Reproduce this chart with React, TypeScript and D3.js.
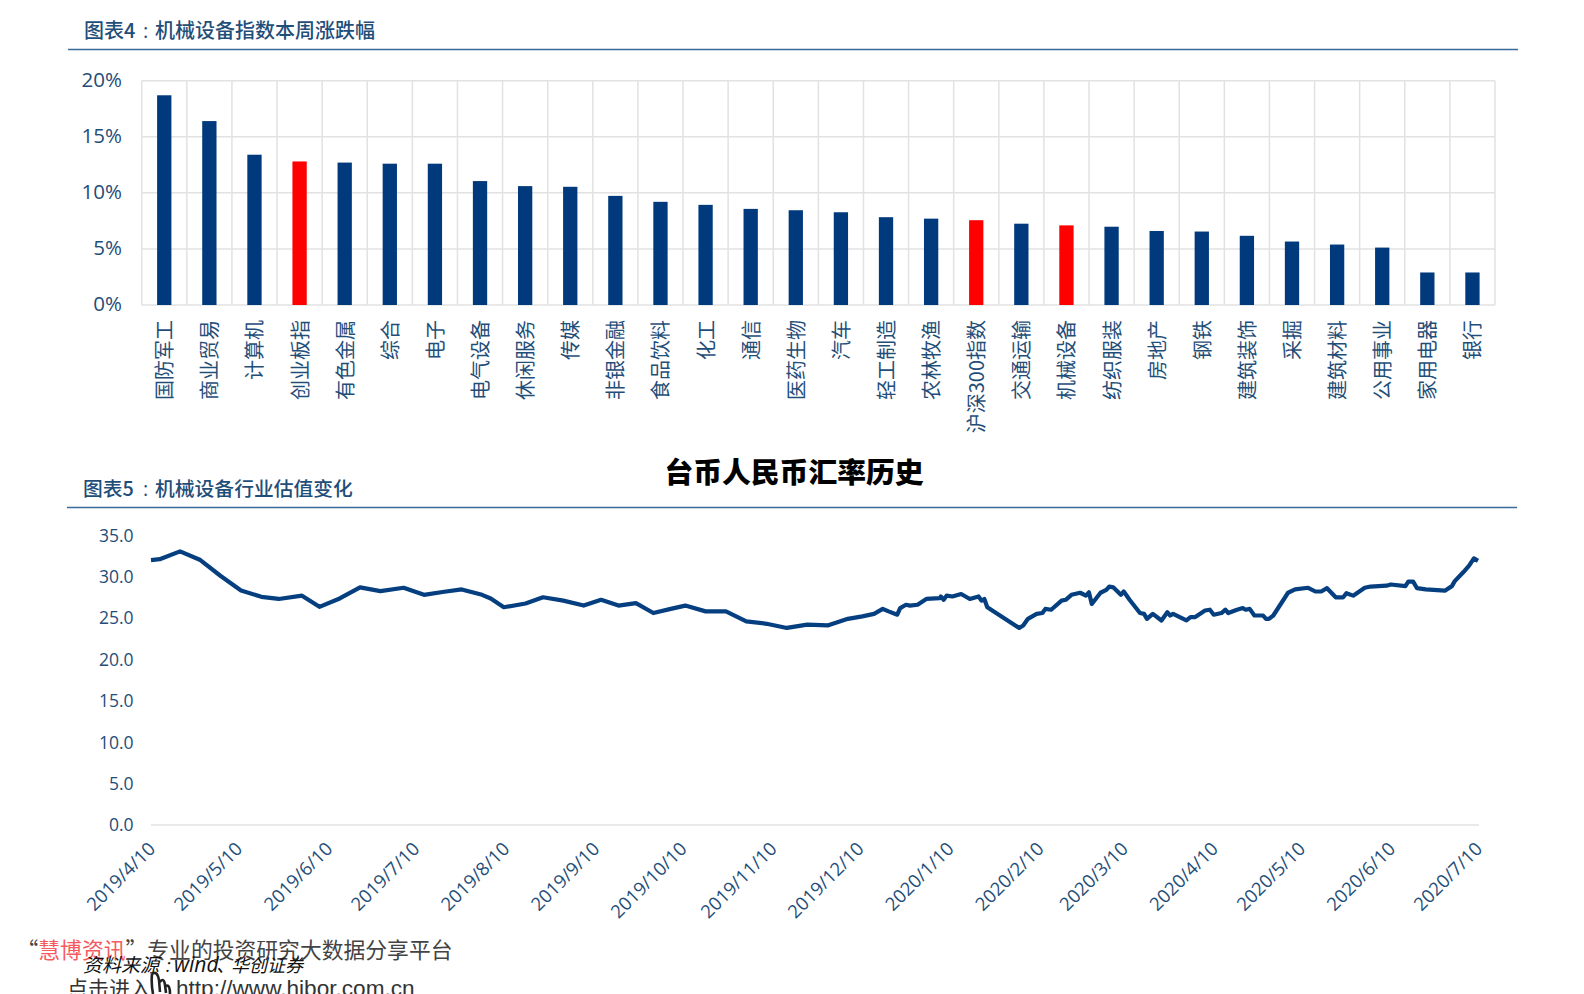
import React from "react";
import * as d3 from "d3";

const categories = ["国防军工","商业贸易","计算机","创业板指","有色金属","综合","电子","电气设备","休闲服务","传媒","非银金融","食品饮料","化工","通信","医药生物","汽车","轻工制造","农林牧渔","沪深300指数","交通运输","机械设备","纺织服装","房地产","钢铁","建筑装饰","采掘","建筑材料","公用事业","家用电器","银行"];
const weeklyChange = [18.7,16.4,13.4,12.8,12.7,12.6,12.6,11.05,10.6,10.54,9.73,9.2,8.93,8.57,8.45,8.27,7.83,7.7,7.56,7.25,7.1,6.98,6.6,6.55,6.17,5.66,5.39,5.12,2.9,2.9];
const highlighted = ["创业板指","沪深300指数","机械设备"];
const barTicks = [0,5,10,15,20];

const valuationDays = [0,3,10,17,24,31,38,44,52,58,65,72,79,87,94,101,107,114,117,121.5,129,135,142,149,155,161,167,173,179,184,191,198,205,212,219,226,233,240,245,249,252,254,257,258,260,261.4,264,267,271.7,272,273,274,276,279,282,285,286,287,288,299,300.4,302,305,307,308,310,313.6,315,317,320,322,323,324,327,329,330,331.4,334,335,337,340.6,342,343,345,348,350,351,352,356.6,358,359.5,363,364.7,366,368.7,370,371,374,376,377,378.4,380,383,384,385,386.5,391.6,394,398.5,401,403,405,408,410.6,411.7,414,418,420,425.5,427,432,433,434.7,436,439,445.6,448,449,452,454,455.6,457];
const valuation = [32,32.1,33.05,32,30.07,28.33,27.56,27.3,27.7,26.35,27.36,28.7,28.25,28.65,27.8,28.17,28.45,27.8,27.36,26.3,26.75,27.5,27.1,26.5,27.2,26.5,26.8,25.6,26.1,26.5,25.8,25.8,24.6,24.3,23.8,24.2,24.1,24.9,25.2,25.5,26.1,25.8,25.4,26.2,26.6,26.5,26.6,27.3,27.4,27.6,27.2,27.7,27.6,27.9,27.3,27.6,27.1,27.3,26.3,23.8,24.1,24.9,25.5,25.6,26.1,26,27.1,27.2,27.8,28.05,27.7,28.1,26.7,28.05,28.4,28.8,28.7,27.8,28.2,27.2,25.6,25.5,24.9,25.5,24.7,25.7,25.3,25.5,24.7,25.1,25.1,25.9,26,25.4,25.6,26,25.6,26,26.2,26,26.1,25.3,25.3,24.9,24.9,25.3,28.05,28.45,28.65,28.2,28.2,28.6,27.5,27.5,28,27.7,28.65,28.8,28.9,29.05,28.85,29.4,29.4,28.6,28.45,28.3,28.85,29.45,30.55,31.35,32.2,31.9];
const lineTicks = [0,5,10,15,20,25,30,35];
const startDate = "2019/4/10";
const dateTicks = ["2019/4/10","2019/5/10","2019/6/10","2019/7/10","2019/8/10","2019/9/10","2019/10/10","2019/11/10","2019/12/10","2020/1/10","2020/2/10","2020/3/10","2020/4/10","2020/5/10","2020/6/10","2020/7/10"];

const sans = "'Open Sans','Noto Sans CJK SC',sans-serif";
const cjk = "'Noto Sans CJK SC','Open Sans',sans-serif";
const navy = "#003A7C";
const ink = "#1F4E79";
const grid = "#E2E2E2";

const parse = d3.timeParse("%Y/%-m/%-d");

export default function App() {
  const xBand = d3.scaleBand<string>().domain(categories).range([141.7, 1495]);
  const yBar = d3.scaleLinear().domain([0, 20]).range([305, 80.7]);
  const barW = xBand.bandwidth() * 0.317;

  const start = parse(startDate) as Date;
  const end = parse(dateTicks[dateTicks.length - 1]) as Date;
  const xTime = d3.scaleTime().domain([start, end]).range([151, 1478]);
  const yLine = d3.scaleLinear().domain([0, 35]).range([825, 535.2]);
  const path = d3.line<number>()
    .x((_, i) => xTime(d3.timeHour.offset(start, valuationDays[i] * 24)))
    .y((v) => yLine(v))(valuation) as string;

  return (
    <svg width={1584} height={994} viewBox="0 0 1584 994" style={{ position: "absolute", left: 0, top: 0, display: "block", background: "#fff" }}>
      {/* Chart 4 heading */}
      <text y={37.5} fontFamily={cjk} fontSize={20} fontWeight={500} fill={ink}>
        <tspan x={84}>图表4</tspan>
        <tspan x={143} fontFamily={sans}>:</tspan>
        <tspan x={155}>机械设备指数本周涨跌幅</tspan>
      </text>
      <line x1={68} x2={1518} y1={49.5} y2={49.5} stroke="#3A6A9A" strokeWidth={1.5} />

      {/* Chart 4 grid */}
      {barTicks.map((t) => (
        <g key={t}>
          <line x1={141.7} x2={1495} y1={yBar(t)} y2={yBar(t)} stroke={grid} strokeWidth={1.5} />
          <text x={122} y={yBar(t) - 1} dy="0.36em" textAnchor="end" fontFamily={sans} fontSize={20.5} fill={ink}>{t}%</text>
        </g>
      ))}
      {[...categories, ""].map((c, i) => {
        const x = 141.7 + i * xBand.step();
        return <line key={i} x1={x} x2={x} y1={80.7} y2={305} stroke={grid} strokeWidth={1.5} />;
      })}

      {/* Chart 4 bars and labels */}
      {categories.map((c, i) => {
        const cx = (xBand(c) as number) + xBand.bandwidth() / 2;
        return (
          <g key={c}>
            <rect x={cx - barW / 2} y={yBar(weeklyChange[i])} width={barW} height={yBar(0) - yBar(weeklyChange[i])} fill={highlighted.includes(c) ? "#FF0000" : navy} />
            <text transform={`translate(${cx + 8},320) rotate(-90)`} textAnchor="end" fontFamily={cjk} fontSize={20} fill={ink}>{c}</text>
          </g>
        );
      })}

      {/* Overlay title */}
      <text x={794} y={482.5} textAnchor="middle" fontFamily={cjk} fontSize={28.8} fontWeight={900} fill="#000">台币人民币汇率历史</text>

      {/* Chart 5 heading */}
      <text y={495.5} fontFamily={cjk} fontSize={19.8} fontWeight={500} fill={ink}>
        <tspan x={83}>图表5</tspan>
        <tspan x={143} fontFamily={sans}>:</tspan>
        <tspan x={155}>机械设备行业估值变化</tspan>
      </text>
      <line x1={67} x2={1517} y1={507.5} y2={507.5} stroke="#3A6A9A" strokeWidth={1.5} />

      {/* Chart 5 */}
      {lineTicks.map((t) => (
        <text key={t} x={133.5} y={yLine(t)} dy="0.36em" textAnchor="end" fontFamily={sans} fontSize={17.5} fill={ink}>{t.toFixed(1)}</text>
      ))}
      <line x1={151} x2={1479} y1={yLine(0)} y2={yLine(0)} stroke={grid} strokeWidth={1.5} />
      <path d={path} fill="none" stroke="#053F80" strokeWidth={4.2} strokeLinejoin="round" />
      {dateTicks.map((d) => {
        const x = xTime(parse(d) as Date);
        return (
          <text key={d} transform={`translate(${x + 5.5},850) rotate(-45)`} textAnchor="end" fontFamily={sans} fontSize={18.5} fill={ink}>{d}</text>
        );
      })}

      {/* Footer */}
      <text x={16.5} y={957.5} fontFamily={cjk} fontSize={21.8} fill="#444">
        “<tspan fill="#F55A5F">慧博资讯</tspan>”专业的投资研究大数据分享平台
      </text>
      <text y={972} fontFamily={cjk} fontSize={19} fontStyle="italic" fill="#111">
        <tspan x={83}>资料来源</tspan>
        <tspan x={166} fontFamily={sans}>:</tspan>
        <tspan x={174} fontFamily={sans} fontSize={21}>wind</tspan>
        <tspan x={216}>、</tspan>
        <tspan x={231} fontSize={18}>华创证券</tspan>
      </text>
      <text x={67} y={996} fontFamily={cjk} fontSize={21} fill="#333">点击进入</text>
      <path d="M152 974 Q151 983 153 994 M152 974 Q157 970 159 980 L160 992 M160 982 Q164 977 165 985 L166 993 M166 986 Q170 984 170 994" fill="none" stroke="#222" strokeWidth={2.6} />
      <text x={176} y={996} fontFamily="'Liberation Sans',sans-serif" fontSize={22.6} fill="#333">http://www.hibor.com.cn</text>
    </svg>
  );
}
